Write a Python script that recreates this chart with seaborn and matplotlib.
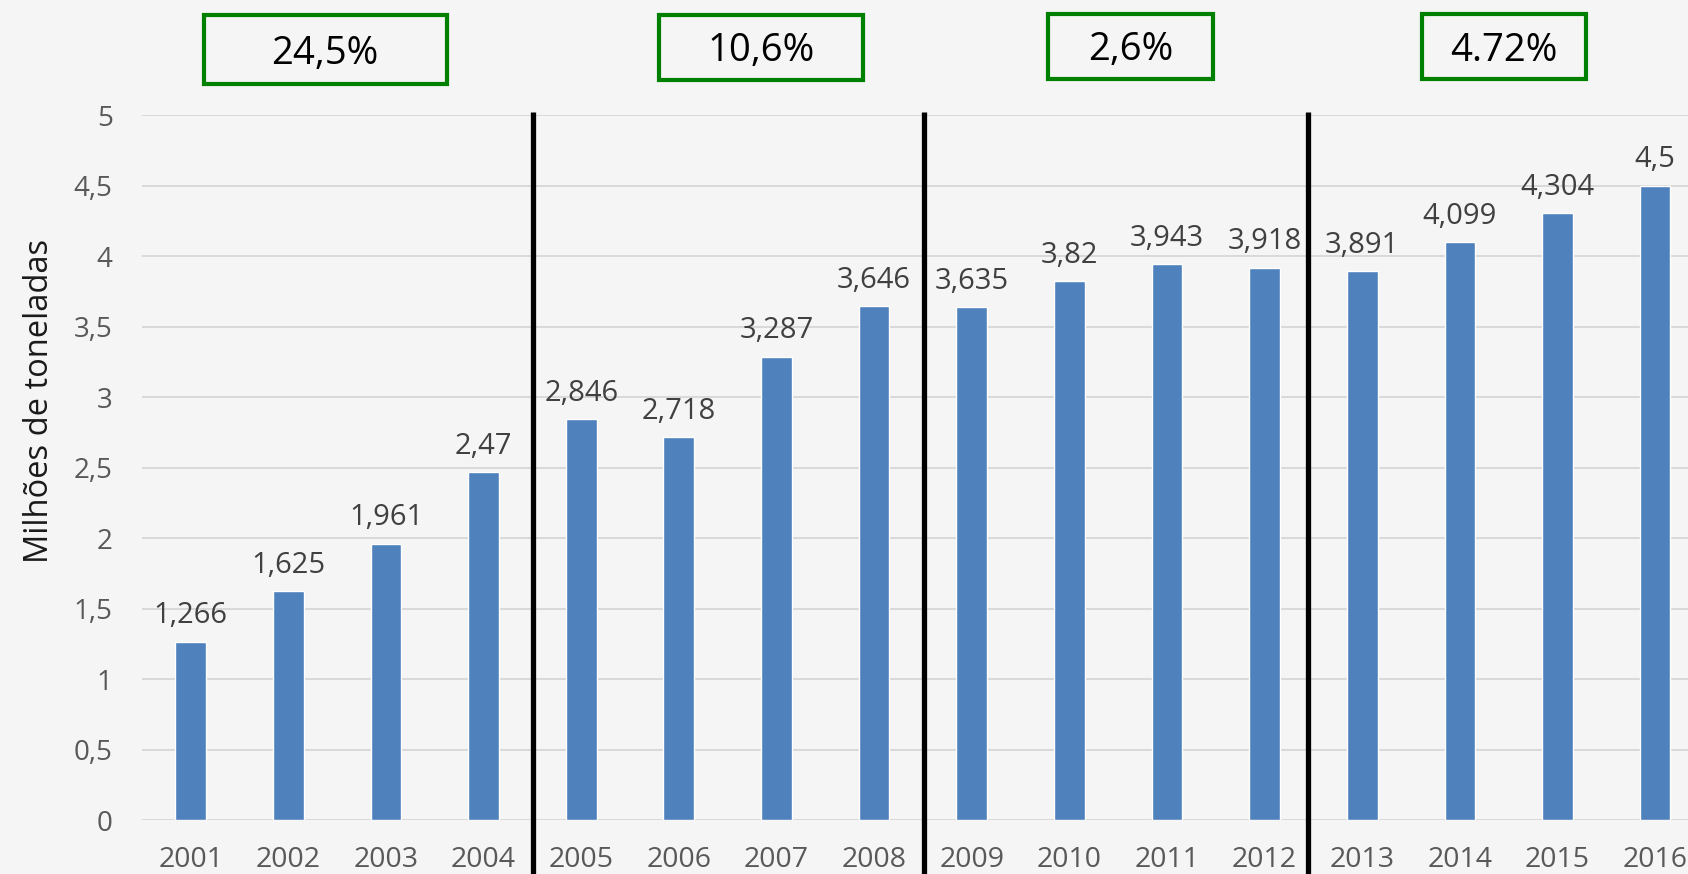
import pandas as pd
import seaborn as sns
import matplotlib.pyplot as plt
from matplotlib.patches import Rectangle

# dados
anos = ["2001", "2002", "2003", "2004", "2005", "2006", "2007", "2008",
        "2009", "2010", "2011", "2012", "2013", "2014", "2015", "2016"]
milhoes_t = [1.266, 1.625, 1.961, 2.47, 2.846, 2.718, 3.287, 3.646,
             3.635, 3.82, 3.943, 3.918, 3.891, 4.099, 4.304, 4.5]
crescimento = ["24,5%", "10,6%", "2,6%", "4.72%"]
y_ticks = [0, 0.5, 1, 1.5, 2, 2.5, 3, 3.5, 4, 4.5, 5]
y_labels = ["0", "0,5", "1", "1,5", "2", "2,5", "3", "3,5", "4", "4,5", "5"]

sns.set_style("white")
plt.rcParams['font.family'] = ['Open Sans', 'DejaVu Sans']

df = pd.DataFrame({"ano": anos, "valor": milhoes_t})

bg = "#f5f5f5"
fig = plt.figure(figsize=(16.88, 8.74), dpi=100, facecolor=bg)
ax = fig.add_axes([0.08404, 0.06178, 0.9254, 0.8066])
ax.set_facecolor(bg)

sns.barplot(data=df, x="ano", y="valor", color="#4f81bd", saturation=1,
            width=0.314, ax=ax)

ax.set_ylim(0, 5)
ax.set_xlim(-0.5, 15.5)
ax.set_yticks(y_ticks)
ax.set_yticklabels(y_labels)
ax.yaxis.grid(True, color="#d9d9d9", lw=1.4)
ax.xaxis.grid(False)
ax.set_axisbelow(True)
for s in ax.spines.values():
    s.set_visible(False)
ax.tick_params(axis="x", length=0, labelsize=20.5, colors="#595959", pad=19)
ax.tick_params(axis="y", length=0, labelsize=20, colors="#595959", pad=21)
ax.set_xlabel("")
ax.set_ylabel("Milhões de toneladas", fontsize=23.5, color="#1a1a1a", va="center")
ax.yaxis.set_label_coords(-0.0655, 0.594)

rotulos = [f"{v:g}".replace(".", ",") for v in milhoes_t]
ax.bar_label(ax.containers[0], labels=rotulos, padding=8, fontsize=21,
             color="#404040")

# separadores dos periodos
for xs in [3.51, 7.507, 11.44]:
    ax.plot([xs, xs], [5.023, -0.6], color="black", lw=3.8,
            solid_capstyle="butt", clip_on=False)

# caixas com o crescimento de cada periodo
caixas = [(201.7, 448.5, 13.3, 86.0), (657, 865, 12.7, 81.7),
          (1046, 1215, 11.7, 80.7), (1419.5, 1588, 12.3, 81.0)]
W, H = 1688, 874
for (x0, x1, y0, y1), txt in zip(caixas, crescimento):
    x0, x1, y0, y1 = x0 + 2, x1 - 2, y0 + 2, y1 - 2
    fig.patches.append(Rectangle((x0 / W, 1 - y1 / H), (x1 - x0) / W, (y1 - y0) / H,
                                 transform=fig.transFigure, fill=False,
                                 edgecolor="#008000", lw=3))
    fig.text((x0 + x1) / 2 / W, 1 - ((y0 + y1) / 2 + 4) / H, txt, fontsize=27.5,
             color="black", ha="center", va="center")

fig.savefig("out.png", dpi=100, facecolor=bg)
